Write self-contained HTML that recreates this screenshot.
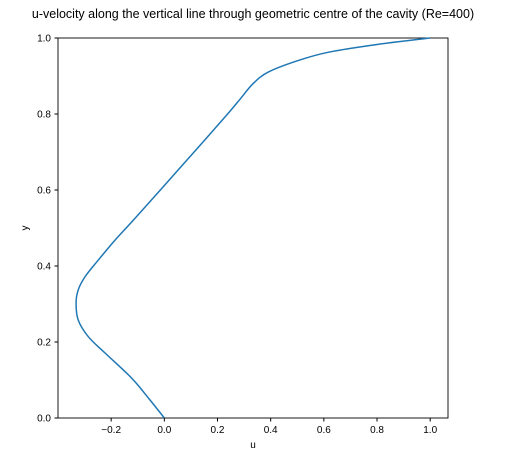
<!DOCTYPE html>
<html><head><meta charset="utf-8"><style>
body{margin:0;background:#fff;}
svg{font-family:"Liberation Sans","DejaVu Sans",sans-serif;}
</style></head><body>
<svg id="c" width="506" height="456">
<text x="253" y="18" text-anchor="middle" font-size="12.5">u-velocity along the vertical line through geometric centre of the cavity (Re=400)</text>
<rect x="58" y="38" width="390" height="380" fill="none" stroke="#000" stroke-width="0.9"/>
<g id="xt"></g><g id="yt"></g>
<text x="253" y="448" text-anchor="middle" font-size="10">u</text>
<text x="28" y="228" text-anchor="middle" font-size="10" transform="rotate(-90 28 228)">y</text>
<path id="line" fill="none" stroke="#1f77b4" stroke-width="1.5"/>
</svg>
<script>
const yVals=[0,0.05,0.105,0.171,0.214,0.258,0.302,0.337,0.372,0.416,0.47,0.521,0.6,0.7,0.8,0.84,0.88,0.91,0.94,0.963,0.984,1.0];
const uVals=[0,-0.057,-0.123,-0.223,-0.286,-0.324,-0.332,-0.324,-0.298,-0.248,-0.183,-0.116,-0.015,0.112,0.238,0.286,0.334,0.39,0.5,0.62,0.81,1.0];
const xTicks=[-0.2,0,0.2,0.4,0.6,0.8,1.0];
const yTicks=[0,0.2,0.4,0.6,0.8,1.0];
const X=u=>58+(u+0.4)/(1.467)*390, Y=v=>418-v*380;
const ns="http://www.w3.org/2000/svg";
const xt=document.getElementById('xt'), yt=document.getElementById('yt');
xTicks.forEach(t=>{
 const l=document.createElementNS(ns,'line');
 l.setAttribute('x1',X(t));l.setAttribute('x2',X(t));l.setAttribute('y1',418);l.setAttribute('y2',421.5);l.setAttribute('stroke','#000');
 
 
 xt.appendChild(l);
 const s=document.createElementNS(ns,'text');
 s.setAttribute('x',X(t));s.setAttribute('y',433);s.setAttribute('text-anchor','middle');s.setAttribute('font-size','10');
 s.textContent=(t<0?'\u2212':'')+Math.abs(t).toFixed(1);
 
 
 xt.appendChild(s);
});
yTicks.forEach(t=>{
 const l=document.createElementNS(ns,'line');
 l.setAttribute('x1',54.5);l.setAttribute('x2',58);l.setAttribute('y1',Y(t));l.setAttribute('y2',Y(t));l.setAttribute('stroke','#000');
 
 
 yt.appendChild(l);
 const s=document.createElementNS(ns,'text');
 s.setAttribute('x',51);s.setAttribute('y',Y(t)+3.5);s.setAttribute('text-anchor','end');s.setAttribute('font-size','10');
 s.textContent=t.toFixed(1);
 
 
 yt.appendChild(s);
});
const P=yVals.map((v,i)=>[X(uVals[i]),Y(v)]);
let d='M'+P[0][0]+','+P[0][1];
for(let i=0;i<P.length-1;i++){
 const p0=P[Math.max(i-1,0)],p1=P[i],p2=P[i+1],p3=P[Math.min(i+2,P.length-1)];
 d+=` C${p1[0]+(p2[0]-p0[0])/6},${p1[1]+(p2[1]-p0[1])/6} ${p2[0]-(p3[0]-p1[0])/6},${p2[1]-(p3[1]-p1[1])/6} ${p2[0]},${p2[1]}`;
}
document.getElementById('line').setAttribute('d',d);
</script>
</body></html>
